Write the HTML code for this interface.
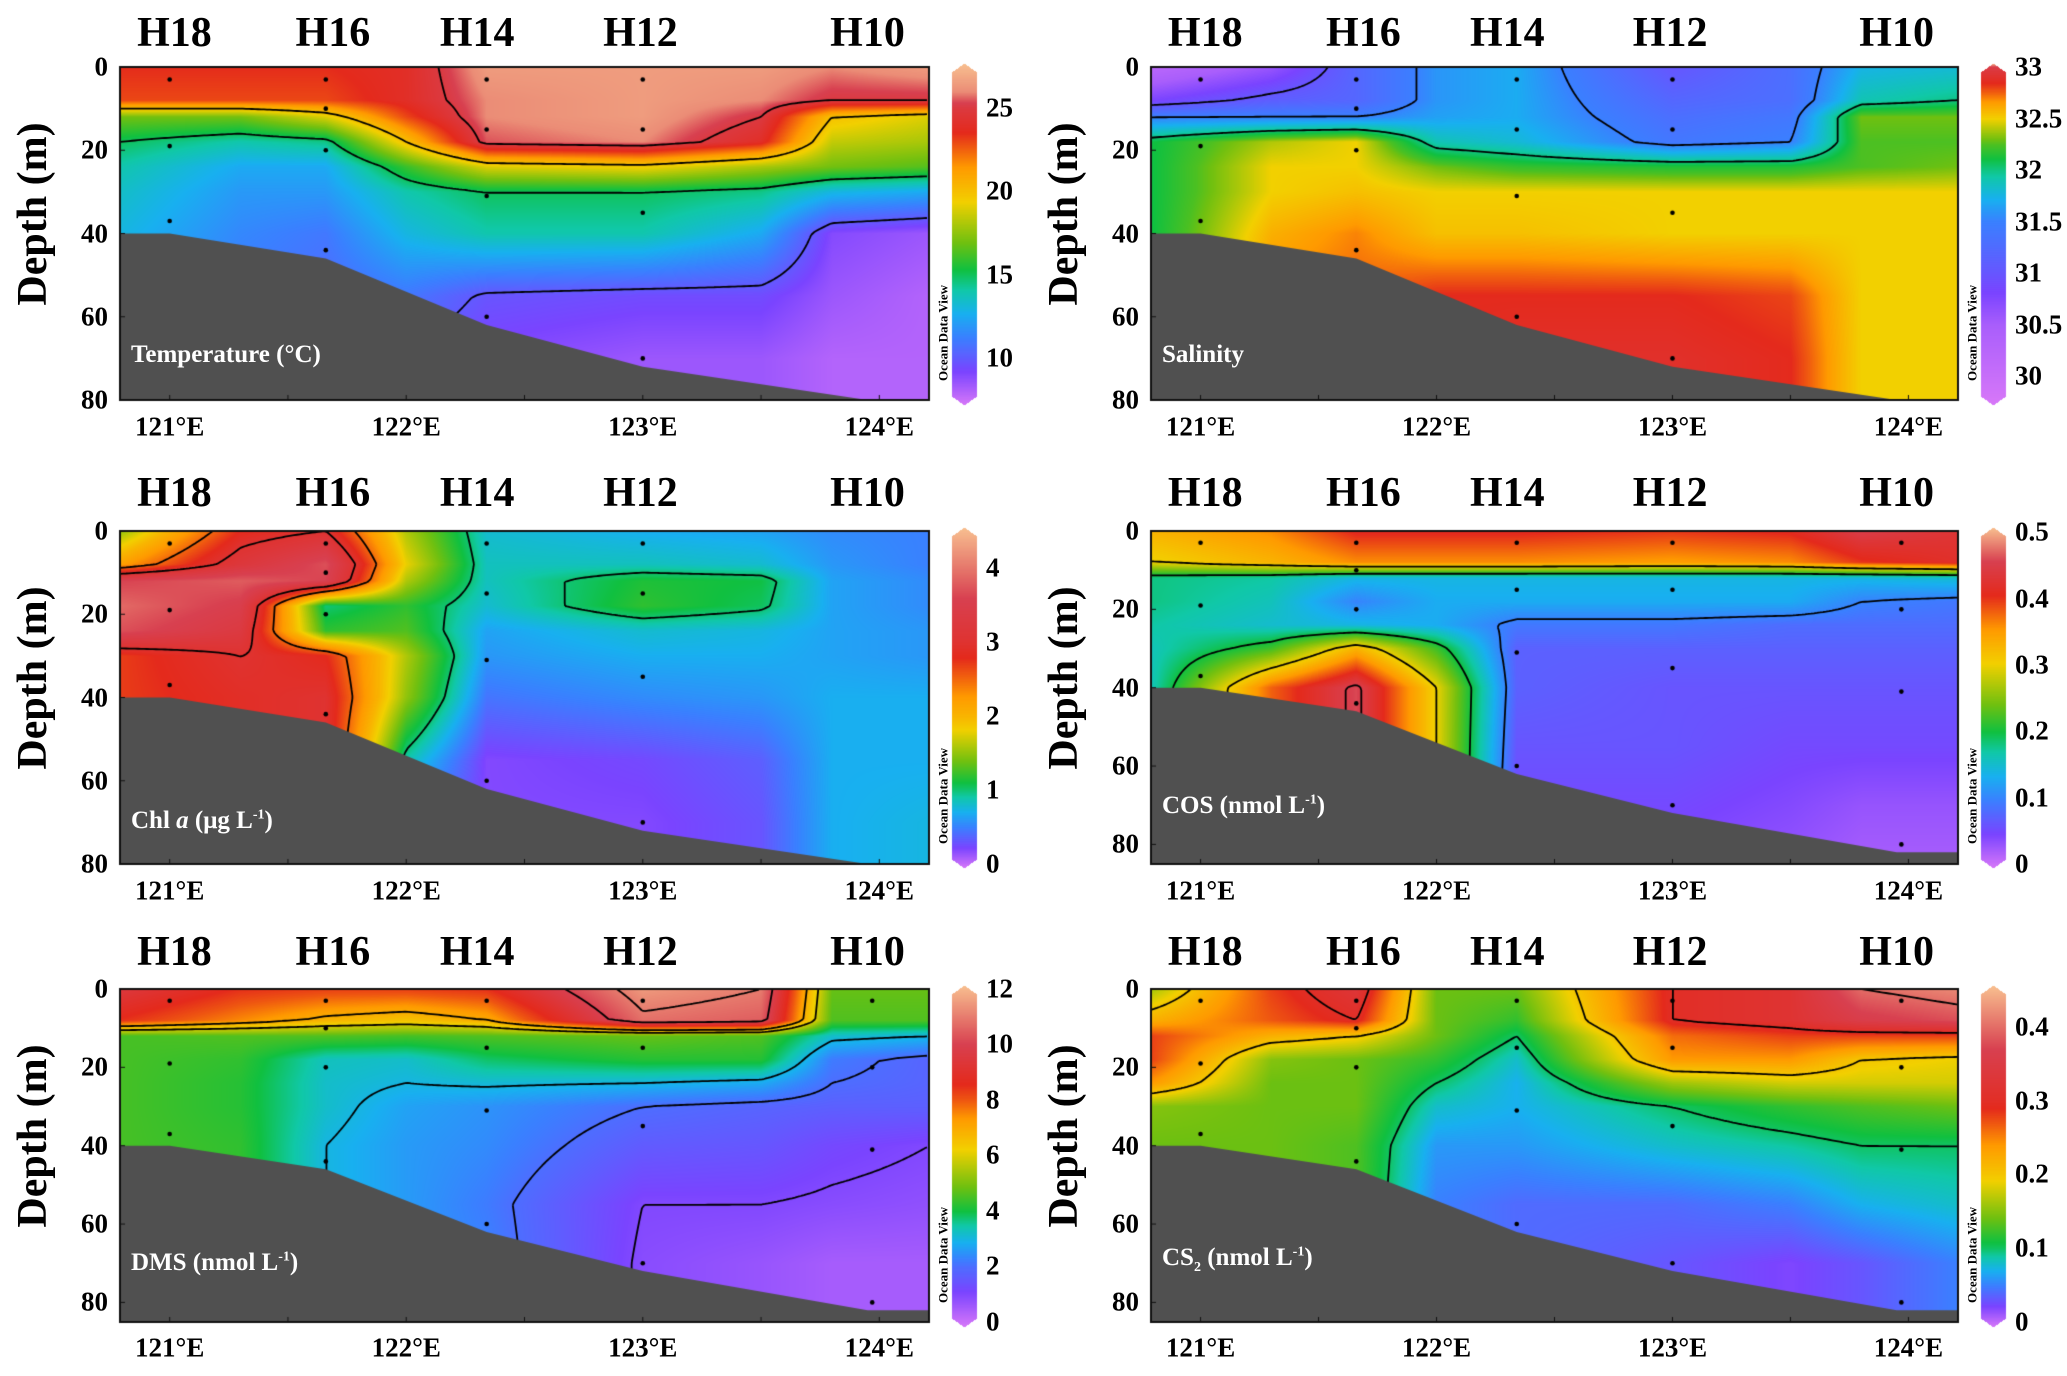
<!DOCTYPE html>
<html><head><meta charset="utf-8">
<style>
html,body{margin:0;padding:0;background:#fff;}
#wrap{position:relative;width:2067px;height:1376px;overflow:hidden;font-family:"Liberation Serif",serif;font-weight:bold;}
canvas{position:absolute;left:0;top:0;}
.t{position:absolute;white-space:nowrap;line-height:1;}
.st{font-size:42px;transform:translate(-50%,-50%);color:#000;}
.yt{font-size:27px;transform:translate(-100%,-50%);}
.xt{font-size:27px;transform:translate(-50%,-50%);}
.cb{font-size:27px;transform:translate(0,-50%);}
.yl{font-size:42px;transform:translate(-50%,-50%) rotate(-90deg);}
.odv{font-size:13px;transform:translate(-50%,-50%) rotate(-90deg);}
.lab{font-size:25px;color:#fff;transform:translate(0,-100%);}
sup{font-size:14px;}
sub{font-size:14px;}
</style></head><body>
<div id="wrap">
<canvas id="cv" width="2067" height="1376"></canvas>
</div>
<script>
const LON=[120.79,121.3,121.66,122.0,122.34,123.0,123.5,123.8,124.21];
const DEP=[0,8,12,18,24,30,40,55,70,85];
const stationNames=["H18","H16","H14","H12","H10"];
const stationLabelLons=[121.02,121.69,122.30,122.99,123.95];
const xTickLons=[121,122,123,124];
const sampleLons=[121.0,121.0,121.0,121.66,121.66,121.66,121.66,122.34,122.34,122.34,122.34,123.0,123.0,123.0,123.0,123.97,123.97,123.97];
const sampleDeps=[3,19,37,3,10,20,44,3,15,31,60,3,15,35,70,3,20,41];
const topoLons=[120.79,121.0,121.66,122.34,123.0,123.95,124.21];
const topoDeps80=[40,40,46,62,72,80,80];
const topoDeps85=[40,40,46,62,72,82,82];

const tempValues=[
[23.5,23.5,23.5,24,26.5,26.5,26.5,26,26.5],
[23,23,23,24,26,26.5,26,25,25],
[17,17,19,23,26,26.5,25,20,19],
[15,14,14.5,20,25.5,26,24,18.5,18],
[14,12.5,12.5,16,19,19.5,18,17,16.5],
[13.5,12,12,14,15,15,14.5,13,12.5],
[13,11.5,11,13,14,14,12.5,9,8.5],
[12,11,10.5,11,9.8,9.5,9.5,8.5,8],
[12,11,10.5,10,9,8.5,8.5,8,8],
[12,11,10.5,10,9,8.5,8.5,8,8]];
const salValues=[
[30.2,30.6,31.2,31.6,31.7,31.0,31.3,31.75,31.8],
[30.8,31.1,31.2,31.6,31.7,31.2,31.3,31.9,32.0],
[31.5,31.5,31.5,31.65,31.7,31.3,31.4,32.3,32.3],
[32.1,32.4,32.5,31.9,31.8,31.4,31.5,32.25,32.25],
[32.1,32.5,32.5,32.3,32.2,32.15,32.15,32.25,32.3],
[32.1,32.5,32.55,32.5,32.5,32.5,32.5,32.5,32.5],
[32.1,32.6,32.7,32.55,32.55,32.5,32.5,32.5,32.5],
[32.1,32.7,32.75,32.85,32.85,32.85,32.8,32.5,32.5],
[32.1,32.7,32.75,32.85,32.9,32.9,32.85,32.5,32.5],
[32.1,32.7,32.75,32.85,32.9,32.9,32.85,32.5,32.5]];
const chlValues=[
[1.5,2.8,3.0,1.6,0.8,0.7,0.65,0.55,0.5],
[2.2,3.2,3.7,1.8,0.85,0.85,0.8,0.6,0.5],
[3.6,3.8,3.6,1.6,0.85,1.15,1.1,0.65,0.55],
[3.9,3.5,1.0,1.2,0.8,1.2,1.05,0.65,0.55],
[3.7,3.3,1.2,1.3,0.65,0.8,0.75,0.65,0.6],
[2.7,3.0,2.8,1.6,0.6,0.7,0.7,0.65,0.6],
[2.7,2.9,3.0,1.5,0.45,0.55,0.6,0.7,0.7],
[2.7,2.9,3.0,0.9,0.2,0.25,0.35,0.7,0.7],
[2.7,2.9,3.0,0.4,0.2,0.2,0.3,0.7,0.75],
[2.7,2.9,3.0,0.4,0.2,0.2,0.3,0.7,0.75]];
const cosValues=[
[0.33,0.36,0.41,0.41,0.41,0.40,0.41,0.45,0.43],
[0.30,0.33,0.36,0.36,0.36,0.35,0.36,0.40,0.42],
[0.18,0.17,0.14,0.14,0.14,0.14,0.14,0.14,0.15],
[0.18,0.16,0.10,0.13,0.13,0.13,0.13,0.10,0.09],
[0.17,0.15,0.14,0.13,0.09,0.09,0.08,0.08,0.08],
[0.16,0.22,0.33,0.22,0.07,0.07,0.07,0.07,0.07],
[0.16,0.38,0.46,0.30,0.07,0.06,0.06,0.06,0.06],
[0.16,0.38,0.46,0.30,0.06,0.06,0.05,0.05,0.05],
[0.16,0.38,0.46,0.30,0.05,0.05,0.04,0.03,0.03],
[0.16,0.38,0.46,0.30,0.04,0.04,0.03,0.02,0.02]];
const dmsValues=[
[9.5,8.5,8.3,8.3,8.5,11.5,11,4.8,4.8],
[8.5,7.5,6.8,6.5,7,10.8,10.5,4.6,4.6],
[4.5,4.6,4.6,4.5,4.6,4.8,4.6,3.2,3.0],
[4.5,4.3,3.3,3.2,3.8,4.2,4.2,2.2,1.8],
[4.5,4.2,3.2,3.0,3.1,3.0,2.8,2.0,1.8],
[4.5,4.2,3.2,2.7,2.5,2.0,1.8,1.7,1.7],
[4.5,4.3,3.0,2.6,2.4,1.6,1.5,1.2,1.0],
[4.5,4.3,3.0,2.6,2.2,1.0,1.0,0.9,0.8],
[4.5,4.3,3.0,2.6,2.3,0.9,0.7,0.5,0.5],
[4.5,4.3,3.0,2.6,2.3,0.9,0.7,0.5,0.5]];
const cs2Values=[
[0.16,0.28,0.33,0.14,0.14,0.30,0.32,0.40,0.42],
[0.22,0.27,0.30,0.14,0.12,0.30,0.32,0.36,0.38],
[0.28,0.22,0.20,0.14,0.10,0.26,0.28,0.28,0.28],
[0.28,0.15,0.14,0.12,0.08,0.24,0.24,0.20,0.19],
[0.24,0.14,0.14,0.10,0.07,0.16,0.18,0.18,0.18],
[0.15,0.14,0.14,0.08,0.07,0.10,0.12,0.13,0.14],
[0.14,0.14,0.13,0.06,0.06,0.08,0.09,0.10,0.10],
[0.14,0.14,0.13,0.05,0.04,0.04,0.05,0.07,0.08],
[0.14,0.14,0.13,0.05,0.04,0.03,0.02,0.03,0.05],
[0.14,0.14,0.13,0.05,0.04,0.03,0.02,0.03,0.05]];

const tempTicks=[10,15,20,25];
const salTicks=[30,30.5,31,31.5,32,32.5,33];
const chlTicks=[0,1,2,3,4];
const cosTicks=[0,0.1,0.2,0.3,0.4,0.5];
const dmsTicks=[0,2,4,6,8,10,12];
const cs2Ticks=[0,0.1,0.2,0.3,0.4];
const tempLevels=[10,15,20,25];
const salLevels=[31,31.5,32];
const chlLevels=[1,2.5,3,4];
const cosLevels=[0.1,0.2,0.3,0.45];
const dmsLevels=[1,2,3,6,7,10,11];
const cs2Levels=[0.1,0.2,0.3,0.4];

const CMAP=[[0,[216,120,248]],[0.1,[122,68,255]],[0.2,[58,128,255]],[0.27,[24,176,240]],[0.34,[16,200,168]],[0.4,[16,192,64]],[0.48,[112,192,16]],[0.6,[242,208,0]],[0.7,[255,154,0]],[0.8,[228,42,28]],[0.9,[216,64,80]],[1,[248,192,144]]];

const panels=[
 {name:"temperature",vals:tempValues,ticks:tempTicks,levels:tempLevels,x0:120,x1:929,y0:67,y1:400,dmax:80,topo:topoDeps80,bar:[952,977,63,405],vTop:27.7,vBot:7.2,fmap:[[7.2,0],[20,0.63],[25,0.87],[26,0.96],[27.7,1]],label:"Temperature (°C)",labY:367,depthTicks:[0,20,40,60,80],stY:33,xtY:427,dots:15},
 {name:"salinity",vals:salValues,ticks:salTicks,levels:salLevels,x0:1151,x1:1958,y0:67,y1:400,dmax:80,topo:topoDeps80,bar:[1981,2006,63,405],vTop:33.04,vBot:29.72,fmap:[[29.72,0],[30.5,0.05],[31,0.13],[31.5,0.2],[32,0.36],[32.25,0.45],[32.5,0.6],[32.75,0.75],[33,0.88],[33.04,1]],label:"Salinity",labY:367,depthTicks:[0,20,40,60,80],stY:33,xtY:427,dots:15},
 {name:"chl-a",vals:chlValues,ticks:chlTicks,levels:chlLevels,x0:120,x1:929,y0:531,y1:864,dmax:80,topo:topoDeps80,bar:[952,977,527,868],vTop:4.55,vBot:-0.05,fmap:[[-0.05,0],[0.5,0.2],[1,0.37],[2,0.65],[3,0.84],[4.55,1]],label:'Chl <i>a</i> (μg L<sup>-1</sup>)',labY:833,depthTicks:[0,20,40,60,80],stY:493,xtY:891,dots:15},
 {name:"cos",vals:cosValues,ticks:cosTicks,levels:cosLevels,x0:1151,x1:1958,y0:531,y1:864,dmax:85,topo:topoDeps85,bar:[1981,2006,527,868],vTop:0.508,vBot:-0.006,fmap:[[-0.006,0],[0.508,1]],label:'COS (nmol L<sup>-1</sup>)',labY:818,depthTicks:[0,20,40,60,80],stY:493,xtY:891,dots:18},
 {name:"dms",vals:dmsValues,ticks:dmsTicks,levels:dmsLevels,x0:120,x1:929,y0:989,y1:1322,dmax:85,topo:topoDeps85,bar:[952,977,985,1327],vTop:12.14,vBot:-0.18,fmap:[[-0.18,0],[2,0.17],[4,0.4],[6,0.58],[8,0.76],[10,0.9],[12.14,1]],label:'DMS (nmol L<sup>-1</sup>)',labY:1275,depthTicks:[0,20,40,60,80],stY:952,xtY:1348,dots:18},
 {name:"cs2",vals:cs2Values,ticks:cs2Ticks,levels:cs2Levels,x0:1151,x1:1958,y0:989,y1:1322,dmax:85,topo:topoDeps85,bar:[1981,2006,985,1327],vTop:0.457,vBot:-0.007,fmap:[[-0.007,0],[0.05,0.2],[0.1,0.38],[0.2,0.62],[0.3,0.82],[0.457,1]],label:'CS<sub>2</sub> (nmol L<sup>-1</sup>)',labY:1275,depthTicks:[0,20,40,60,80],stY:952,xtY:1348,dots:18}
];
const LONMIN=120.79, LONMAX=124.21;

function interp1(xs,ys,x){
  if(x<=xs[0])return ys[0];
  for(let i=0;i<xs.length-1;i++){ if(x<=xs[i+1]){const t=(x-xs[i])/(xs[i+1]-xs[i]);return ys[i]+t*(ys[i+1]-ys[i]);} }
  return ys[ys.length-1];
}
function cmap(f){
  f=Math.max(0,Math.min(1,f));
  for(let i=0;i<CMAP.length-1;i++){
    if(f<=CMAP[i+1][0]){const t=(f-CMAP[i][0])/(CMAP[i+1][0]-CMAP[i][0]);const a=CMAP[i][1],b=CMAP[i+1][1];
      return [a[0]+t*(b[0]-a[0]),a[1]+t*(b[1]-a[1]),a[2]+t*(b[2]-a[2])];}
  }
  return CMAP[CMAP.length-1][1];
}
function fmapV(p,v){return interp1(p.fmap.map(a=>a[0]),p.fmap.map(a=>a[1]),v);}
function field(vals,lon,d){
  let i=0; while(i<LON.length-2 && lon>LON[i+1]) i++;
  let j=0; while(j<DEP.length-2 && d>DEP[j+1]) j++;
  let tx=(lon-LON[i])/(LON[i+1]-LON[i]); tx=Math.max(0,Math.min(1,tx));
  let ty=(d-DEP[j])/(DEP[j+1]-DEP[j]); ty=Math.max(0,Math.min(1,ty));
  const a=vals[j][i],b=vals[j][i+1],c=vals[j+1][i],e=vals[j+1][i+1];
  return (a*(1-tx)+b*tx)*(1-ty)+(c*(1-tx)+e*tx)*ty;
}
const cv=document.getElementById('cv');
const ctx=cv.getContext('2d');
const img=ctx.createImageData(2067,1376);
const W=2067;
function xOf(p,lon){return p.x0+(lon-LONMIN)/(LONMAX-LONMIN)*(p.x1-p.x0);}
function yOf(p,d){return p.y0+d/p.dmax*(p.y1-p.y0);}
panels.forEach(p=>{
  for(let py=p.y0;py<p.y1;py++){
    const d=(py-p.y0+0.5)/(p.y1-p.y0)*p.dmax;
    for(let px=p.x0;px<p.x1;px++){
      const lon=LONMIN+(px-p.x0+0.5)/(p.x1-p.x0)*(LONMAX-LONMIN);
      const c=cmap(fmapV(p,field(p.vals,lon,d)));
      const k=(py*W+px)*4; img.data[k]=c[0];img.data[k+1]=c[1];img.data[k+2]=c[2];img.data[k+3]=255;
    }
  }
  const [bx0,bx1,by0,by1]=p.bar;
  for(let py=by0;py<by1;py++){
    const v=p.vTop-(py-by0)/(by1-by0)*(p.vTop-p.vBot);
    const c=cmap(fmapV(p,v));
    const cap=9, mid=(bx0+bx1)/2, half=(bx1-bx0)/2;
    let w=half;
    if(py-by0<cap) w=half*(py-by0)/cap;
    if(by1-py<cap) w=half*(by1-py)/cap;
    for(let px=Math.round(mid-w);px<Math.round(mid+w);px++){
      const k=(py*W+px)*4; img.data[k]=c[0];img.data[k+1]=c[1];img.data[k+2]=c[2];img.data[k+3]=255;
    }
  }
});
ctx.putImageData(img,0,0);
panels.forEach(p=>{
  const step=3;
  const nx=Math.floor((p.x1-p.x0)/step)+1, ny=Math.floor((p.y1-p.y0)/step)+1;
  const g=[];
  for(let j=0;j<ny;j++){const row=[];const d=j*step/(p.y1-p.y0)*p.dmax;
    for(let i=0;i<nx;i++){const lon=LONMIN+i*step/(p.x1-p.x0)*(LONMAX-LONMIN);row.push(field(p.vals,lon,d));}
    g.push(row);}
  ctx.strokeStyle='#000';ctx.lineWidth=1.8;ctx.beginPath();
  p.levels.forEach(L=>{
    for(let j=0;j<ny-1;j++)for(let i=0;i<nx-1;i++){
      const v0=g[j][i],v1=g[j][i+1],v2=g[j+1][i+1],v3=g[j+1][i];
      const pts=[];
      const X=i*step+p.x0,Y=j*step+p.y0;
      if((v0<L)!==(v1<L))pts.push([X+step*(L-v0)/(v1-v0),Y]);
      if((v1<L)!==(v2<L))pts.push([X+step,Y+step*(L-v1)/(v2-v1)]);
      if((v2<L)!==(v3<L))pts.push([X+step*(L-v3)/(v2-v3),Y+step]);
      if((v3<L)!==(v0<L))pts.push([X,Y+step*(L-v0)/(v3-v0)]);
      for(let q=0;q+1<pts.length;q+=2){ctx.moveTo(pts[q][0],pts[q][1]);ctx.lineTo(pts[q+1][0],pts[q+1][1]);}
    }
  });
  ctx.stroke();
  ctx.fillStyle='#505050';ctx.beginPath();
  ctx.moveTo(p.x0,p.y1);
  topoLons.forEach((lo,k)=>ctx.lineTo(xOf(p,lo),yOf(p,Math.min(p.topo[k],p.dmax))));
  ctx.lineTo(p.x1,p.y1);ctx.closePath();ctx.fill();
  ctx.fillStyle='#000';
  for(let k=0;k<p.dots;k++){ctx.beginPath();ctx.arc(xOf(p,sampleLons[k]),yOf(p,sampleDeps[k]),2.3,0,7);ctx.fill();}
  if(p.dots===18){ctx.beginPath();ctx.arc(xOf(p,123.97),yOf(p,80),2.3,0,7);ctx.fill();}
  ctx.strokeStyle='#111';ctx.lineWidth=2;ctx.strokeRect(p.x0,p.y0,p.x1-p.x0,p.y1-p.y0);
  ctx.lineWidth=1;ctx.beginPath();
  for(let lo=121;lo<=124;lo+=0.5){const x=xOf(p,lo);ctx.moveTo(x,p.y1);ctx.lineTo(x,p.y1-5);}
  p.depthTicks.forEach(d=>{const y=yOf(p,d);ctx.moveTo(p.x0,y);ctx.lineTo(p.x0+5,y);});
  ctx.stroke();
});
const wrap=document.getElementById('wrap');
function addText(cls,x,y,html,name){
  const el=document.createElement('div');
  el.className='t '+cls;el.style.left=x+'px';el.style.top=y+'px';el.innerHTML=html;
  
  
  wrap.appendChild(el);return el;
}
panels.forEach(p=>{
  stationNames.forEach((s,k)=>addText('st',xOf(p,stationLabelLons[k]),p.stY,s,'station-label-'+s.toLowerCase()));
  p.depthTicks.forEach(d=>{ if(d<=p.dmax) addText('yt',p.x0-12,yOf(p,d),String(d),'y-tick-label'); });
  xTickLons.forEach(lo=>addText('xt',xOf(p,lo),p.xtY,lo+'°E','x-tick-label'));
  addText('yl',p.x0-87,(p.y0+p.y1)/2-20,'Depth (m)','y-axis-title');
  const [bx0,bx1,by0,by1]=p.bar;
  p.ticks.forEach(v=>{const y=by0+(p.vTop-v)/(p.vTop-p.vBot)*(by1-by0);addText('cb',bx1+9,y,String(v),'colorbar-tick-label');});
  addText('odv',bx0-9,by1-72,'Ocean Data View','odv-watermark');
  addText('lab',p.x0+11,p.labY,p.label,'panel-variable-label');
});
</script>
</body></html>
